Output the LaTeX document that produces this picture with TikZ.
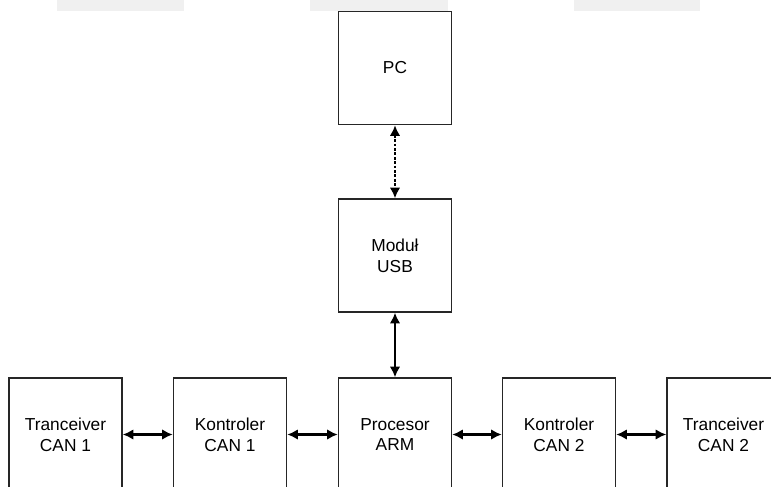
\documentclass[tikz,border=0pt]{standalone}
\usepackage{fontspec}
\setmainfont{Liberation Sans}
\usetikzlibrary{arrows.meta}
\definecolor{tabgray}{HTML}{F0F0F0}
\begin{document}
\begin{tikzpicture}[x=0.75pt, y=-0.75pt,
    blok/.style={draw=black!85, line width=1.1pt, minimum width=84.75pt, minimum height=84.75pt,
        align=center, font=\fontsize{13}{15.5}\selectfont},
    link/.style={{Latex[length=8pt,width=8pt]}-{Latex[length=8pt,width=8pt]}, line width=1.7pt},
    tab/.style={fill=tabgray, draw=none}]
    \useasboundingbox (0,0) rectangle (771,486);
    \clip (0,0) rectangle (771,486);
            \fill[tab] (57,0) rectangle (184,11);
            \fill[tab] (310,0) rectangle (448,11);
            \fill[tab] (574,0) rectangle (700,11);
            \node[blok] (PC) at (395,68){PC};
            \node[blok] (USB) at (395,255.5){Moduł\\USB};
            \node[blok] (ARM) at (395,434.5){Procesor\\ARM};
            \node[blok] (K1) at (230,434.5){Kontroler\\CAN 1};
            \node[blok] (T1) at (65.5,434.5){Tranceiver\\CAN 1};
            \node[blok] (K2) at (559,434.5){Kontroler\\CAN 2};
            \node[blok] (T2) at (723.5,434.5){Tranceiver\\CAN 2};
            \draw[link, dash pattern=on 2pt off 1.3pt] (PC) -- (USB);
            \draw[link] (USB) -- (ARM);
            \draw[link] (T1) -- (K1);
            \draw[link] (K1) -- (ARM);
            \draw[link] (ARM) -- (K2);
            \draw[link] (K2) -- (T2);
        \end{tikzpicture}
\end{document}
